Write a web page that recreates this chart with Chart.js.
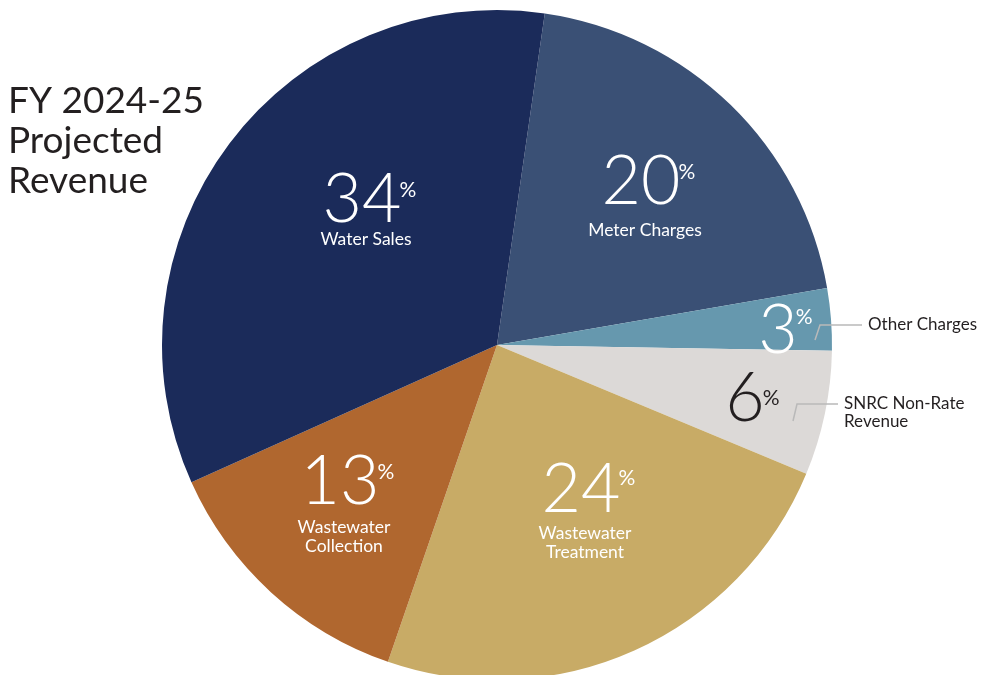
<!DOCTYPE html>
<html>
<head>
<meta charset="utf-8">
<script src="https://cdn.jsdelivr.net/npm/chart.js@4.4.1/dist/chart.umd.min.js"></script>
<style>
  html, body { margin: 0; padding: 0; background: #fff; overflow: hidden; }
  #wrap { width: 984px; height: 675px; overflow: hidden; }
</style>
</head>
<body>
<div id="wrap"><canvas id="pie" width="984" height="685"></canvas></div>
<script>
// Slice data, clockwise from just right of 12 o'clock
const categories = ['Meter Charges', 'Other Charges', 'SNRC Non-Rate Revenue', 'Wastewater Treatment', 'Wastewater Collection', 'Water Sales'];
const shares = [20, 3, 6, 24, 13, 34];
const sliceColors = ['#3a5075', '#6698ae', '#dcd9d7', '#c8ab66', '#b0672f', '#1b2b5a'];

// label text per slice (lines under the big number)
const sliceLabels = [['Meter Charges'], ['Other Charges'], ['SNRC Non-Rate', 'Revenue'], ['Wastewater', 'Treatment'], ['Wastewater', 'Collection'], ['Water Sales']];

// where the big number sits, offset from pie centre (px) - hand placed like the original
const numOffsets = [[144, -141], [281, 8], [248, 76], [84, 167], [-157, 159], [-135, -123]];
const pctRaise = [25, 29, 16, 27, 25, 25];
const labelGap = [26, 0, 0, 21, 23, 17];
const numColors = ['#fff', '#fff', '#231f20', '#fff', '#fff', '#fff'];
// callout lines for the two thin slices: [startX, startY, cornerX, cornerY, endX] relative to the number
const callouts = [null, [37, -13, 42, -28, 84], [48, 0, 52, -17, 93], null, null, null];

const ctx = document.getElementById('pie').getContext('2d');

const labelPlugin = {
  id: 'labelPlugin',
  afterDraw(chart) {
    const c = chart.ctx;
    const arc = chart.getDatasetMeta(0).data[0];
    const cx = arc.x, cy = arc.y;
    c.save();

    // title on the left
    c.fillStyle = '#231f20';
    c.font = '400 37px Lato';
    c.textAlign = 'left';
    c.textBaseline = 'alphabetic';
    ['FY 2024-25', 'Projected', 'Revenue'].forEach((t, i) => c.fillText(t, 8, 113 + i * 40));

    shares.forEach((v, i) => {
      const x = cx + numOffsets[i][0];
      const y = cy + numOffsets[i][1];
      // big number
      c.fillStyle = numColors[i];
      c.font = '300 68px Lato';
      c.textAlign = 'center';
      c.textBaseline = 'alphabetic';
      c.fillText(String(v), x, y);
      const w = c.measureText(String(v)).width;
      c.font = '400 21px Lato';
      c.textAlign = 'left';
      c.fillText('%', x + w / 2 - 2, y - pctRaise[i]);

      const co = callouts[i];
      if (!co) {
        c.fillStyle = '#fff';
        c.font = '400 17.5px Lato';
        c.textAlign = 'center';
        c.textBaseline = 'middle';
        sliceLabels[i].forEach((t, k) => c.fillText(t, x + 4, y + labelGap[i] + k * 19));
      } else {
        // callout line + text outside the pie
        c.strokeStyle = '#b9b9b9';
        c.lineWidth = 1.5;
        c.beginPath();
        c.moveTo(x + co[0], y + co[1]);
        c.lineTo(x + co[2], y + co[3]);
        c.lineTo(x + co[4], y + co[3]);
        c.stroke();
        c.fillStyle = '#231f20';
        c.font = '400 17px Lato';
        c.textAlign = 'left';
        c.textBaseline = 'middle';
        sliceLabels[i].forEach((t, k) => c.fillText(t, x + co[4] + 6, y + co[3] + k * 18));
      }
    });
    c.restore();
  }
};

new Chart(ctx, {
  type: 'pie',
  data: {
    labels: categories,
    datasets: [{
      data: shares,
      backgroundColor: sliceColors,
      borderWidth: 0
    }]
  },
  options: {
    responsive: false,
    animation: false,
    devicePixelRatio: 1,
    rotation: 8.2,
    layout: { padding: { left: 162, top: 10, right: 152, bottom: 5 } },
    plugins: {
      legend: { display: false },
      tooltip: { enabled: false }
    }
  },
  plugins: [labelPlugin]
});
</script>
</body>
</html>
